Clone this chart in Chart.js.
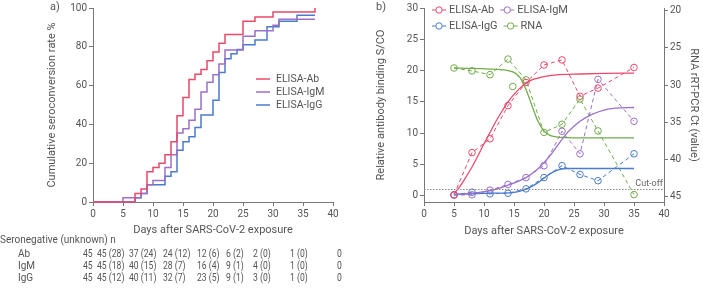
<!DOCTYPE html>
<html><head><meta charset="utf-8">
<script src="https://cdn.jsdelivr.net/npm/chart.js@4"></script>
<style>
html,body{margin:0;padding:0;background:#fff;}
#wrap{position:relative;width:703px;height:289px;overflow:hidden;font-family:Roboto,'DejaVu Sans',sans-serif;color:#555;}
canvas{position:absolute;top:0;}
#ca{left:0;}
#cb{left:350px;}
.t{position:absolute;font-size:10px;white-space:nowrap;line-height:12px;}
.n{transform:scaleX(0.86);transform-origin:0 50%;}
</style></head><body>
<div id="wrap">
<canvas id="ca" width="350" height="240"></canvas>
<canvas id="cb" width="353" height="240"></canvas>
<div class="t" style="left:50px;top:1px;font-size:11px;">a)</div>
<div class="t" style="left:376px;top:1px;font-size:11px;">b)</div>
<div id="table"></div>
</div>
<script>
// ---------- Panel a data (cumulative seroconversion, step curves) ----------
const abDays  = [0, 7, 8, 9, 10, 11, 12, 13, 14, 15, 16, 17, 18, 19, 20, 21, 22, 25, 27, 30, 37];
const abRate  = [0, 4.4, 6.7, 15.6, 17.8, 20, 24.4, 31.1, 44.4, 53.9, 63.2, 65.9, 68.3, 72.8, 77.3, 81.8, 86.4, 93.2, 95.4, 97.9, 100];
const igmDays = [0, 5, 8, 9, 10, 12, 13, 14, 15, 16, 17, 18, 19, 20, 21, 22, 25, 27, 30, 31, 37];
const igmRate = [0, 2.2, 4.4, 8.9, 11.1, 17.8, 24.4, 35.6, 37.8, 42.2, 47.8, 56.7, 61.7, 65.6, 71.1, 78.4, 85.4, 88.3, 91.1, 94.2, 94.2];
const iggDays = [0, 7, 8, 9, 12, 13, 14, 15, 16, 17, 18, 20, 21, 22, 23, 24, 25, 27, 29, 31, 34, 37];
const iggRate = [0, 2.2, 4.4, 8.9, 13.3, 15.6, 26.7, 31.1, 33.6, 38.4, 44.9, 52.4, 66.8, 73.8, 76.4, 78.6, 81.0, 83.5, 90.3, 93.2, 96.3, 96.3];
const seriesLabels = ['ELISA-Ab', 'ELISA-IgM', 'ELISA-IgG'];
const aXTicks = [0, 5, 10, 15, 20, 25, 30, 35, 40];
const aYTicks = [0, 20, 40, 60, 80, 100];

// ---------- Number-at-risk table ----------
const tableTitle = 'Seronegative (unknown) n';
const riskRowLabels = ['Ab', 'IgM', 'IgG'];
const riskAb  = ['45', '45 (28)', '37 (24)', '24 (12)', '12 (6)', '6 (2)', '2 (0)', '1 (0)', '0'];
const riskIgM = ['45', '45 (18)', '40 (15)', '28 (7)', '16 (4)', '9 (1)', '4 (0)', '1 (0)', '0'];
const riskIgG = ['45', '45 (12)', '40 (11)', '32 (7)', '23 (5)', '9 (1)', '3 (0)', '1 (0)', '0'];

// ---------- Panel b data ----------
const sampleDays = [5, 8, 11, 14, 17, 20, 23, 26, 29, 35];
const abObs  = [0.15, 6.9, 9.1, 14.4, 18.1, 20.9, 21.7, 15.9, 17.2, 20.5];
const igmObs = [0.1, 0.15, 0.9, 1.8, 2.9, 4.8, 10.3, 6.7, 18.6, 11.9];
const iggObs = [0.15, 0.57, 0.3, 0.4, 1.1, 2.9, 4.8, 3.4, 2.4, 6.7];
const rnaObs = [27.7, 28.1, 28.6, 26.5, 29.3, 36.4, 35.3, 31.9, 36.2, 44.8];
const rnaExtraDay = [14.8];
const rnaExtraCt  = [30.2];

const abFitDays = [5, 6, 7, 8, 9, 10, 11, 12, 13, 14, 15, 16, 17, 18, 19, 20, 22, 26, 30, 35];
const abFit     = [0.3, 1.5, 3.0, 4.6, 6.4, 8.3, 10.1, 11.9, 13.5, 15.0, 16.2, 17.2, 18.0, 18.5, 18.8, 19.05, 19.3, 19.45, 19.55, 19.6];
const igmFitDays = [5, 8, 11, 14, 17, 19, 20, 21, 22, 23, 24, 25, 26, 28, 30, 32, 35];
const igmFit     = [0.2, 0.4, 0.8, 1.7, 2.9, 4.3, 5.3, 6.4, 7.7, 9.0, 10.2, 11.1, 11.9, 13.0, 13.7, 14.0, 14.1];
const iggFitDays = [5, 8, 11, 14, 15, 16, 17, 18, 19, 20, 21, 22, 23, 24, 26, 35];
const iggFit     = [0.2, 0.35, 0.4, 0.45, 0.55, 0.75, 1.05, 1.5, 2.1, 2.8, 3.5, 4.0, 4.3, 4.35, 4.35, 4.35];
const rnaFitDays = [5, 8, 11, 13, 14, 15, 16, 17, 18, 19, 20, 21, 22, 24, 28, 35];
const rnaFit     = [27.7, 27.75, 27.85, 27.95, 28.05, 28.3, 29.0, 30.6, 32.8, 34.9, 36.2, 36.8, 37.0, 37.1, 37.15, 37.15];
const cutoffDays = [0, 40];
const cutoffValue = [1, 1];
const bLegend = ['ELISA-Ab', 'ELISA-IgM', 'ELISA-IgG', 'RNA'];
const bXTicks = [0, 5, 10, 15, 20, 25, 30, 35, 40];
const bLeftTicks = [0, 5, 10, 15, 20, 25, 30];
const bRightTicks = [20, 25, 30, 35, 40, 45];

// ---------- styles ----------
const RED = '#e84a6b', PURPLE = '#9b70c8', BLUE = '#4a7bcc', GREEN = '#72ab4c';
const TXT = '#555', AX = '#777';
const FAM = 'Roboto, "DejaVu Sans", sans-serif';
Chart.defaults.font.family = FAM;
Chart.defaults.color = TXT;

const pts = (xs, ys) => xs.map((x, i) => ({x, y: ys[i]}));
const setTicks = (arr) => (s) => { s.ticks = arr.map(v => ({value: v})); };

function axisCommon(extra) {
  return Object.assign({
    type: 'linear',
    grid: {display: true, drawOnChartArea: false, drawTicks: true, tickLength: 4, color: AX, tickWidth: 1},
    border: {display: true, color: AX, width: 1},
    ticks: {color: TXT, font: {size: 10, family: FAM}, padding: 2, maxRotation: 0}
  }, extra);
}

// ---------- Panel a ----------
const legendA = {
  id: 'legendA',
  afterDraw(chart) {
    const {ctx, chartArea} = chart;
    ctx.save();
    ctx.font = '10.5px ' + FAM;
    ctx.textBaseline = 'middle';
    ctx.fillStyle = TXT;
    chart.data.datasets.forEach((ds, i) => {
      const y = 79 + i * 13;
      const x0 = chartArea.left + 163;
      ctx.strokeStyle = ds.borderColor; ctx.lineWidth = 1.5;
      ctx.beginPath(); ctx.moveTo(x0, y); ctx.lineTo(x0 + 14, y); ctx.stroke();
      ctx.fillText(ds.label, x0 + 20, y);
    });
    ctx.restore();
  }
};

new Chart(document.getElementById('ca'), {
  type: 'line',
  data: {
    datasets: [
      {label: seriesLabels[0], data: pts(abDays, abRate), borderColor: RED},
      {label: seriesLabels[1], data: pts(igmDays, igmRate), borderColor: PURPLE},
      {label: seriesLabels[2], data: pts(iggDays, iggRate), borderColor: BLUE}
    ].map(d => Object.assign(d, {stepped: 'before', borderWidth: 1.5, pointRadius: 0, fill: false, clip: false}))
  },
  options: {
    responsive: false, animation: false, devicePixelRatio: 1,
    layout: {padding: {top: 6, right: 17, left: 0, bottom: 0}},
    plugins: {legend: {display: false}, tooltip: {enabled: false}},
    scales: {
      x: axisCommon({min: 0, max: 40, afterBuildTicks: setTicks(aXTicks),
        title: {display: true, text: 'Days after SARS-CoV-2 exposure', color: TXT, font: {size: 11}, padding: {top: 0, bottom: 3}},
        afterFit(s) { s.height = 38; }}),
      y: axisCommon({min: 0, max: 100, afterBuildTicks: setTicks(aYTicks),
        title: {display: true, text: 'Cumulative seroconversion rate %', color: TXT, font: {size: 11}, padding: {top: 46, bottom: 0}},
        afterFit(s) { s.width = 93; }})
    }
  },
  plugins: [legendA]
});

// ---------- table ----------
(function () {
  const tbl = document.getElementById('table');
  const colLeft = [83, 97, 129, 163, 197, 226, 253, 290, 337];
  const rowTop = [248, 260, 272];
  const add = (txt, l, t, cls) => { const d = document.createElement('div'); d.className = 't' + (cls ? ' ' + cls : ''); d.textContent = txt; d.style.left = l + 'px'; d.style.top = t + 'px'; tbl.appendChild(d); };
  add(tableTitle, 0, 234);
  [riskAb, riskIgM, riskIgG].forEach((row, r) => {
    add(riskRowLabels[r], 18, rowTop[r]);
    row.forEach((v, c) => add(v, colLeft[c], rowTop[r], 'n'));
  });
})();

// ---------- Panel b ----------
function circleIcon(ctx, x, y, color) {
  ctx.strokeStyle = color; ctx.lineWidth = 1;
  ctx.beginPath(); ctx.moveTo(x - 7, y); ctx.lineTo(x - 3.2, y); ctx.moveTo(x + 3.2, y); ctx.lineTo(x + 7, y); ctx.stroke();
  ctx.beginPath(); ctx.arc(x, y, 3.2, 0, Math.PI * 2); ctx.stroke();
}
const bExtras = {
  id: 'bExtras',
  afterDraw(chart) {
    const {ctx, chartArea, scales} = chart;
    ctx.save();
    ctx.font = '9px ' + FAM; ctx.fillStyle = '#666'; ctx.textAlign = 'right'; ctx.textBaseline = 'bottom';
    ctx.fillText('Cut-off', chartArea.right - 1, scales.y.getPixelForValue(cutoffValue[0]) - 1);
    ctx.font = '11px ' + FAM; ctx.fillStyle = TXT; ctx.textAlign = 'left'; ctx.textBaseline = 'middle';
    const cols = [RED, PURPLE, BLUE, GREEN];
    let x = chartArea.left + 8;
    for (let i = 0; i < 4; i++) {
      if (i === 2) x = chartArea.left + 8;
      const y = i < 2 ? 10 : 26;
      circleIcon(ctx, x + 7, y, cols[i]);
      ctx.fillText(bLegend[i], x + 17, y);
      x += 17 + ctx.measureText(bLegend[i]).width + 6;
    }
    ctx.restore();
  }
};

const obsStyle = (c) => ({borderColor: c, backgroundColor: 'rgba(0,0,0,0)', borderWidth: 1, borderDash: [4, 3],
  pointRadius: 3.3, pointBorderWidth: 1, pointBorderColor: c, pointBackgroundColor: 'rgba(0,0,0,0)', fill: false});
const fitStyle = (c) => ({borderColor: c, borderWidth: 1.3, pointRadius: 0, cubicInterpolationMode: 'monotone', fill: false});

new Chart(document.getElementById('cb'), {
  type: 'line',
  data: {
    datasets: [
      {label: 'cut', data: pts(cutoffDays, cutoffValue), yAxisID: 'y', borderColor: '#888', borderWidth: 1, borderDash: [1.5, 1.5], pointRadius: 0},
      Object.assign({label: bLegend[0] + ' fit', data: pts(abFitDays, abFit), yAxisID: 'y'}, fitStyle(RED)),
      Object.assign({label: bLegend[1] + ' fit', data: pts(igmFitDays, igmFit), yAxisID: 'y'}, fitStyle(PURPLE)),
      Object.assign({label: bLegend[2] + ' fit', data: pts(iggFitDays, iggFit), yAxisID: 'y'}, fitStyle(BLUE)),
      Object.assign({label: bLegend[3] + ' fit', data: pts(rnaFitDays, rnaFit), yAxisID: 'y2'}, fitStyle(GREEN)),
      Object.assign({label: bLegend[0], data: pts(sampleDays, abObs), yAxisID: 'y'}, obsStyle(RED)),
      Object.assign({label: bLegend[1], data: pts(sampleDays, igmObs), yAxisID: 'y'}, obsStyle(PURPLE)),
      Object.assign({label: bLegend[2], data: pts(sampleDays, iggObs), yAxisID: 'y'}, obsStyle(BLUE)),
      Object.assign({label: bLegend[3], data: pts(sampleDays, rnaObs), yAxisID: 'y2'}, obsStyle(GREEN)),
      Object.assign({label: 'RNA extra', data: pts(rnaExtraDay, rnaExtraCt), yAxisID: 'y2', showLine: false}, obsStyle(GREEN))
    ].map(d => Object.assign(d, {clip: false}))
  },
  options: {
    responsive: false, animation: false, devicePixelRatio: 1,
    layout: {padding: {top: 4, right: 0, left: 0, bottom: 0}},
    plugins: {legend: {display: false}, tooltip: {enabled: false}},
    scales: {
      x: axisCommon({min: 0, max: 40, afterBuildTicks: setTicks(bXTicks),
        title: {display: true, text: 'Days after SARS-CoV-2 exposure', color: TXT, font: {size: 11}, padding: {top: 0, bottom: 2}},
        afterFit(s) { s.height = 38; }}),
      y: axisCommon({position: 'left', min: -1, max: 30, afterBuildTicks: setTicks(bLeftTicks),
        title: {display: true, text: 'Relative antibody binding S/CO', color: TXT, font: {size: 11}, padding: {top: 25, bottom: 0}},
        afterFit(s) { s.width = 74; }}),
      y2: axisCommon({position: 'right', reverse: true, min: 19.6, max: 45.8, afterBuildTicks: setTicks(bRightTicks),
        title: {display: true, text: 'RNA rRT-PCR Ct (value)', color: TXT, font: {size: 11}, padding: {top: 3, bottom: 0}},
        afterFit(s) { s.width = 39; }})
    }
  },
  plugins: [bExtras]
});
</script>
</body></html>
